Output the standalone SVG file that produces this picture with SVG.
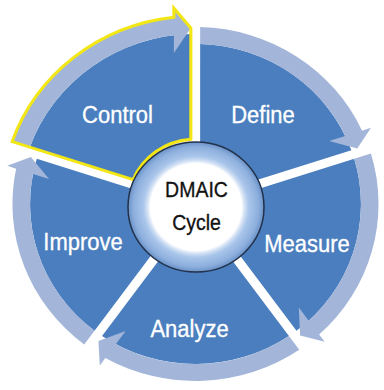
<svg xmlns="http://www.w3.org/2000/svg" width="384" height="390" viewBox="0 0 384 390">
<defs>
<style>
.seg{fill:#4a7ebe}
.band{fill:#a3b6d9}
.lbl{font-family:"Liberation Sans",Arial,sans-serif;font-size:22px;fill:#ffffff;stroke:#ffffff;stroke-width:0.3;text-anchor:middle}
.hubt{font-family:"Liberation Sans",Arial,sans-serif;font-size:19.5px;fill:#111111;stroke:#111111;stroke-width:0.3;text-anchor:middle}
.hl{fill:none;stroke:#f2e614;stroke-width:3;stroke-linejoin:miter}
</style>
<path id="sector" d="M -31.53,-51.05 L -90.37,-132.04 A 160 160 0 0 1 90.37,-132.04 L 31.53,-51.05 A 60 60 0 0 0 -31.53,-51.05 Z"/>
<path id="arrow" d="M -100.36,-145.79 A 177 177 0 0 1 87.20,-154.04 L 92.53,-161.38 L 93.90,-136.89 L 67.55,-126.99 L 77.13,-140.19 A 160 160 0 0 0 -90.37,-132.04 Z"/>
<radialGradient id="hubg" cx="0.5" cy="0.5" r="0.5">
<stop offset="0" stop-color="#ffffff"/>
<stop offset="0.67" stop-color="#ffffff"/>
<stop offset="0.72" stop-color="#cfdff3"/>
<stop offset="0.78" stop-color="#a9c5ea"/>
<stop offset="0.92" stop-color="#8dafdd"/>
<stop offset="1" stop-color="#6a91c8"/>
</radialGradient>
</defs>
<rect width="384" height="390" fill="#ffffff"/>
<g id="node-define">
<use href="#sector" class="seg" transform="translate(195.5,204) scale(1.034,1) rotate(36)"/>
<text class="lbl" transform="translate(263,123) scale(1,1.12)">Define</text>
</g>
<g id="node-measure">
<use href="#sector" class="seg" transform="translate(195.5,204) scale(1.034,1) rotate(108)"/>
<text class="lbl" transform="translate(307,252) scale(1,1.12)">Measure</text>
</g>
<g id="node-analyze">
<use href="#sector" class="seg" transform="translate(195.5,204) scale(1.034,1) rotate(180)"/>
<text class="lbl" transform="translate(189.5,337) scale(1,1.12)">Analyze</text>
</g>
<g id="node-improve">
<use href="#sector" class="seg" transform="translate(195.5,204) scale(1.034,1) rotate(252)"/>
<text class="lbl" transform="translate(83,250) scale(1,1.12)">Improve</text>
</g>
<g id="connectors">
<use href="#arrow" class="band" transform="translate(195.5,204) scale(1.034,1) rotate(36)"/>
<use href="#arrow" class="band" transform="translate(195.5,204) scale(1.034,1) rotate(108)"/>
<use href="#arrow" class="band" transform="translate(195.5,204) scale(1.034,1) rotate(180)"/>
<use href="#arrow" class="band" transform="translate(195.5,204) scale(1.034,1) rotate(252)"/>
</g>
<g id="node-control">
<path class="seg" transform="translate(195.5,204) scale(1.034,1) rotate(-36)" d="M -34.47,-55.10 L -96.25,-140.13 A 170 170 0 0 1 96.25,-140.13 L 34.47,-55.10 A 65 65 0 0 0 -34.47,-55.10 Z"/>
<path class="band" transform="translate(195.5,204) scale(1.034,1) rotate(-36)" d="M -106.84,-154.70 A 188 188 0 0 1 92.91,-163.43 L 98.26,-170.79 L 99.78,-144.98 L 71.81,-134.39 L 82.26,-148.77 A 170 170 0 0 0 -96.25,-140.13 Z"/>
<path class="hl" transform="translate(195.5,204) scale(1.034,1) rotate(-36)" d="M -34.47,-55.10 L -106.84,-154.70 A 188 188 0 0 1 92.91,-163.43 L 98.26,-170.79 L 99.78,-144.98 L 34.47,-55.10 A 65 65 0 0 0 -34.47,-55.10 Z"/>
<text class="lbl" transform="translate(117.5,123) scale(1,1.12)">Control</text>
</g>
<g id="node-hub">
<ellipse cx="196" cy="207" rx="68" ry="65" fill="url(#hubg)" stroke="#23324a" stroke-width="1.5"/>
<text class="hubt" transform="translate(196.5,197) scale(1,1.14)">DMAIC</text>
<text class="hubt" transform="translate(196.5,230) scale(1,1.14)">Cycle</text>
</g>
</svg>
